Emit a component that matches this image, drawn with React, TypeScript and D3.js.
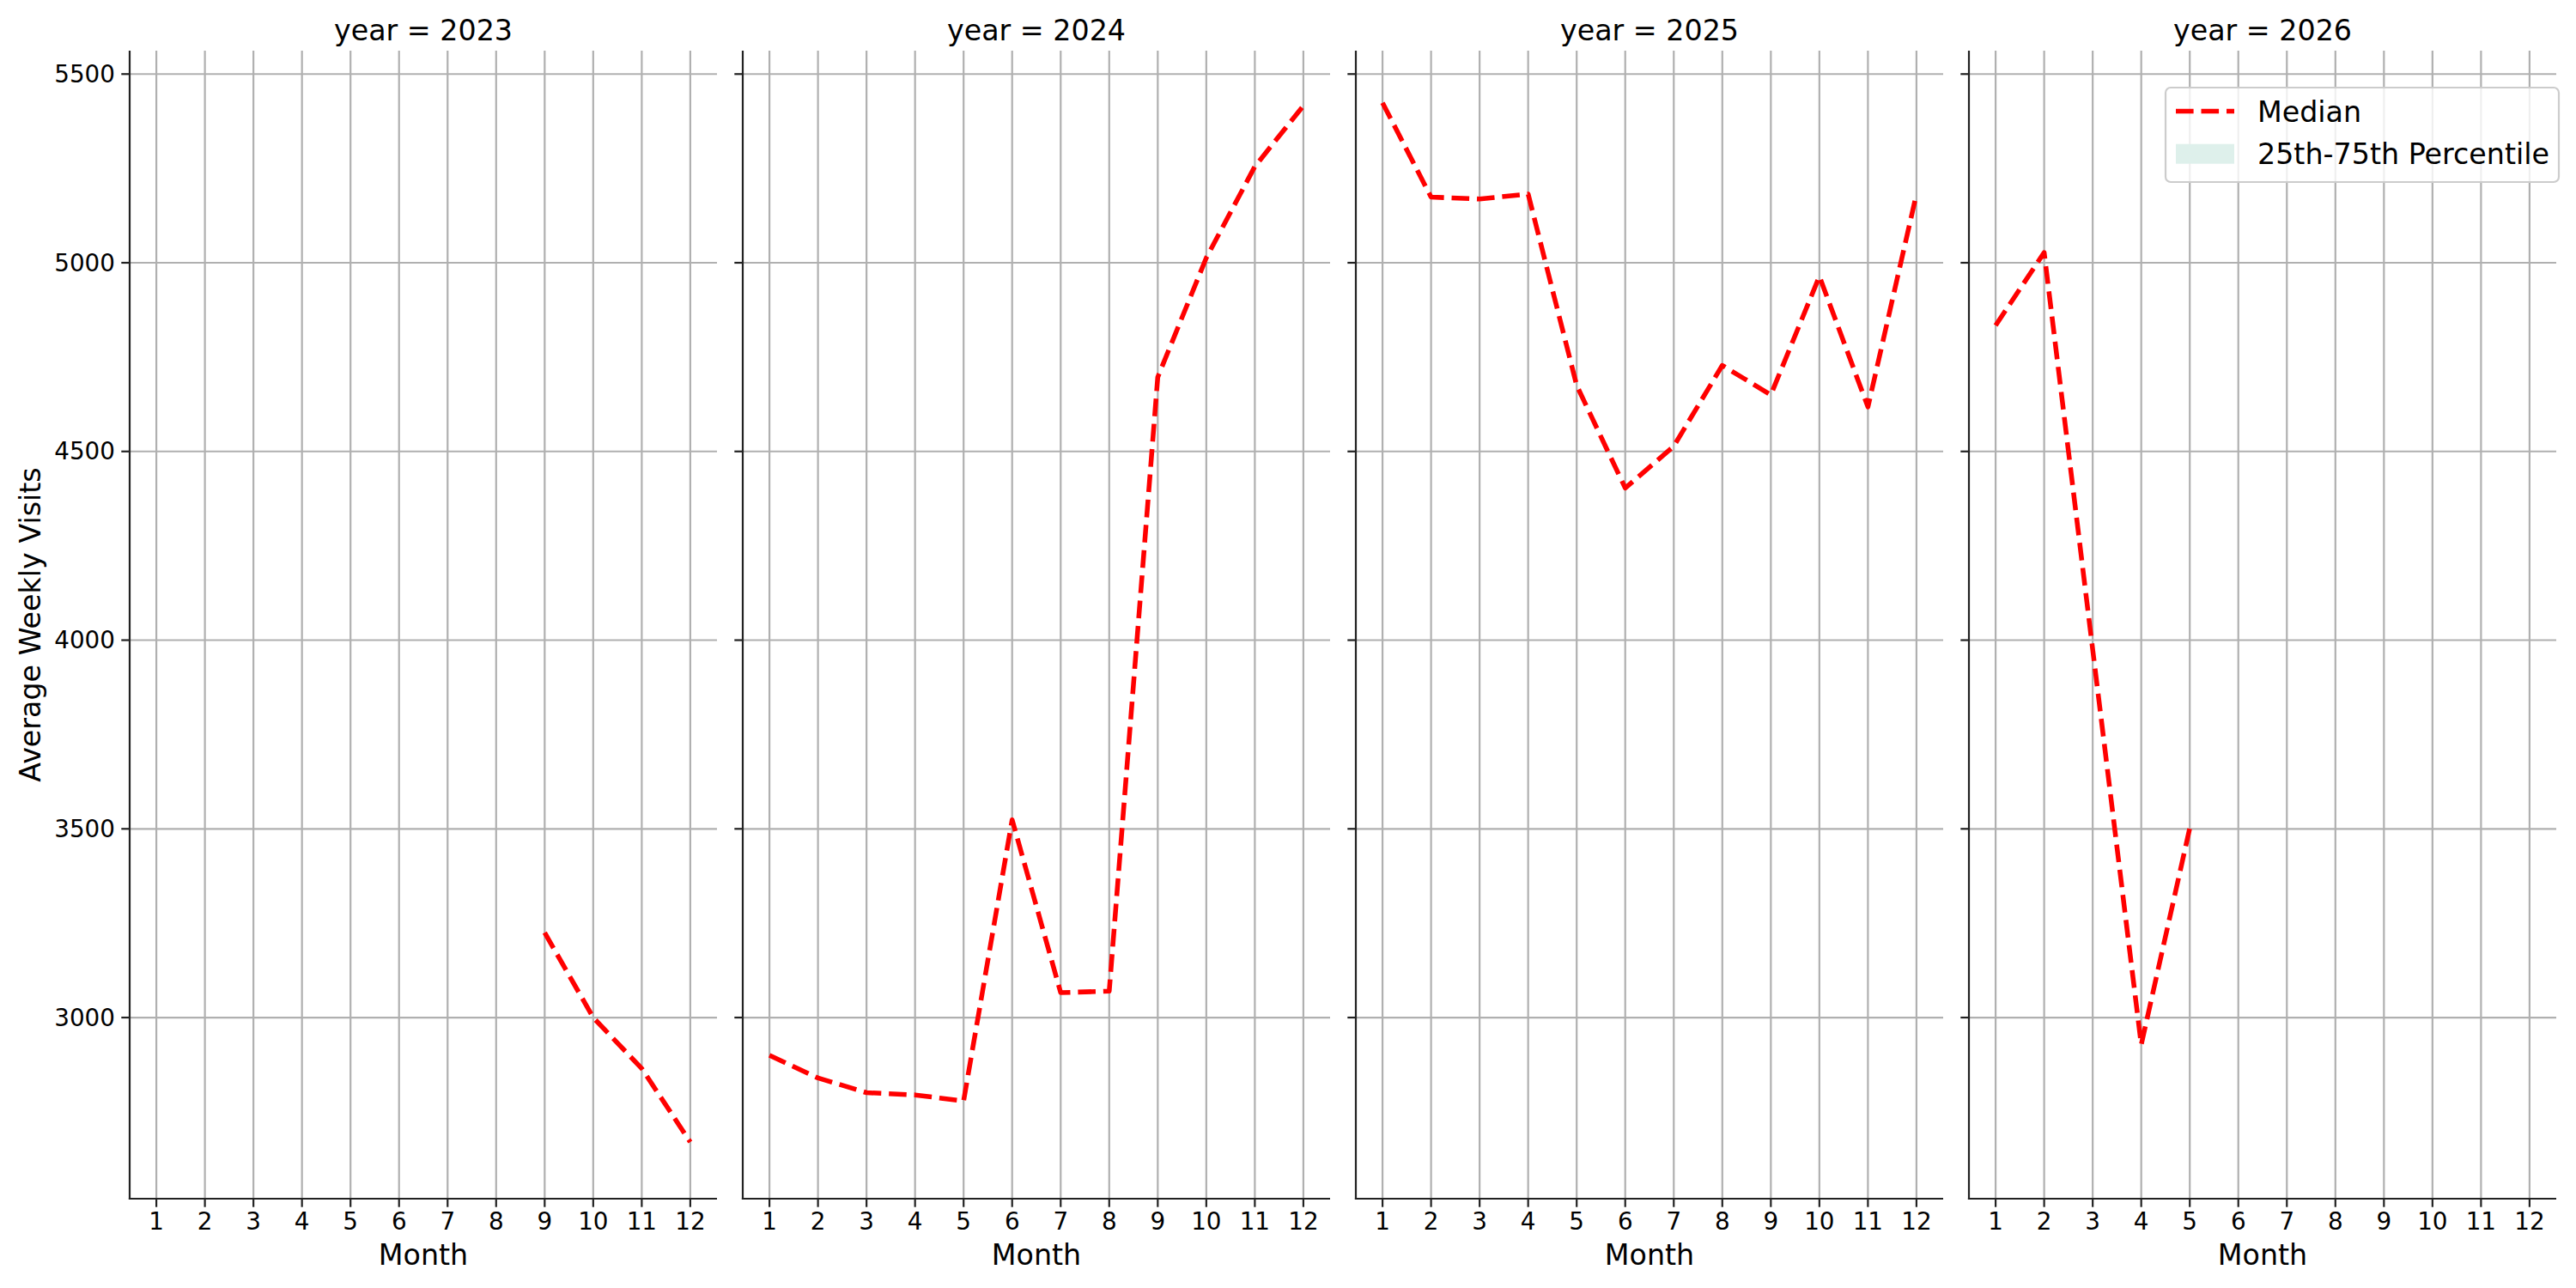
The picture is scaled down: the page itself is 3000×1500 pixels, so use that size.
import * as d3 from 'd3';

const YEARS = [2023, 2024, 2025, 2026];
const MONTHS = [1, 2, 3, 4, 5, 6, 7, 8, 9, 10, 11, 12];
const Y_TICKS = [3000, 3500, 4000, 4500, 5000, 5500];

// median weekly visits per month (null = no data)
const MEDIAN_2023 = [null, null, null, null, null, null, null, null, 3225, 3000, 2865, 2670];
const MEDIAN_2024 = [2900, 2840, 2801, 2795, 2779, 3524, 3066, 3070, 4697, 5013, 5255, 5416];
const MEDIAN_2025 = [5424, 5174, 5169, 5182, 4675, 4403, 4514, 4728, 4650, 4964, 4618, 5182];
const MEDIAN_2026 = [4834, 5027, 3975, 2928, 3502, null, null, null, null, null, null, null];
const MEDIANS = [MEDIAN_2023, MEDIAN_2024, MEDIAN_2025, MEDIAN_2026];

const Y_DOMAIN = [2520, 5562];

const FONT = 'DejaVu Sans, sans-serif';
const GRID = '#b0b0b0';
const SPINE = '#222222';

export default function App() {
  const width = 3000;
  const height = 1500;
  const top = 59;
  const bottom = 1396;
  const panelW = 684;
  const gap = 30;
  const firstLeft = 151;

  const y = d3.scaleLinear().domain(Y_DOMAIN).range([bottom, top]);

  return (
    <svg
      width={width}
      height={height}
      style={{ position: 'absolute', left: 0, top: 0, background: '#fff' }}
      fontFamily={FONT}
    >
      <rect x={0} y={0} width={width} height={height} fill="#fff" />
      {YEARS.map((year, i) => {
        const left = firstLeft + i * (panelW + gap);
        const x = d3.scaleLinear().domain([0.45, 12.55]).range([left, left + panelW]);
        const pts = MONTHS.map((m, k) => ({ m, v: MEDIANS[i][k] }));
        const line = d3
          .line<{ m: number; v: number | null }>()
          .defined(d => d.v !== null)
          .x(d => x(d.m))
          .y(d => y(d.v as number));

        return (
          <g key={year}>
            {MONTHS.map(m => (
              <line key={`gx${m}`} x1={x(m)} x2={x(m)} y1={top} y2={bottom} stroke={GRID} strokeWidth={2.2} />
            ))}
            {Y_TICKS.map(t => (
              <line key={`gy${t}`} x1={left} x2={left + panelW} y1={y(t)} y2={y(t)} stroke={GRID} strokeWidth={2.2} />
            ))}

            <path
              d={line(pts) ?? ''}
              fill="none"
              stroke="#ff0000"
              strokeWidth={5.56}
              strokeDasharray="20.6 8.9"
              strokeLinejoin="round"
            />

            <line x1={left} x2={left} y1={top} y2={bottom + 1.1} stroke={SPINE} strokeWidth={2.2} />
            <line x1={left - 1.1} x2={left + panelW} y1={bottom} y2={bottom} stroke={SPINE} strokeWidth={2.2} />

            {Y_TICKS.map(t => (
              <g key={`ty${t}`}>
                <line x1={left - 9.7} x2={left} y1={y(t)} y2={y(t)} stroke={SPINE} strokeWidth={2.2} />
                {i === 0 && (
                  <text x={left - 17} y={y(t)} textAnchor="end" dominantBaseline="central" fontSize={27.8} fill="#000">
                    {t}
                  </text>
                )}
              </g>
            ))}

            {MONTHS.map(m => (
              <g key={`tx${m}`}>
                <line x1={x(m)} x2={x(m)} y1={bottom} y2={bottom + 9.7} stroke={SPINE} strokeWidth={2.2} />
                <text x={x(m)} y={1432} textAnchor="middle" fontSize={27.8} fill="#000">
                  {m}
                </text>
              </g>
            ))}

            <text x={left + panelW / 2} y={1473} textAnchor="middle" fontSize={33.3} fill="#000">
              Month
            </text>
            <text x={left + panelW / 2} y={46.5} textAnchor="middle" fontSize={33.3} fill="#000">
              year = {year}
            </text>
          </g>
        );
      })}

      <text
        transform={`translate(47,${(top + bottom) / 2}) rotate(-90)`}
        textAnchor="middle"
        fontSize={33.3}
        fill="#000"
      >
        Average Weekly Visits
      </text>

      <g>
        <rect x={2522} y={102} width={458} height={110} rx={6} fill="#fff" fillOpacity={0.8} stroke="#cccccc" strokeWidth={2.2} />
        <line x1={2534} x2={2602} y1={129.5} y2={129.5} stroke="#ff0000" strokeWidth={5.56} strokeDasharray="20.6 8.9" />
        <text x={2629} y={141.7} fontSize={33.3} fill="#000">Median</text>
        <rect x={2534} y={167.7} width={68} height={23} fill="#def0eb" />
        <text x={2629} y={190.7} fontSize={33.3} fill="#000">25th-75th Percentile</text>
      </g>
    </svg>
  );
}
